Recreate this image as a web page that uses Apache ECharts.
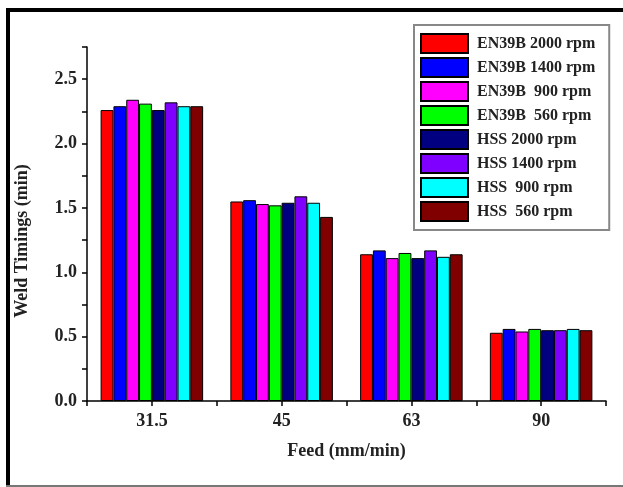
<!DOCTYPE html>
<html>
<head>
<meta charset="utf-8">
<script src="https://cdn.jsdelivr.net/npm/echarts@6/dist/echarts.min.js"></script>
<style>
html,body{margin:0;padding:0;background:#fff;}
#c{width:623px;height:487px;}
</style>
</head>
<body>
<div id="c"></div>
<script>
const categories = ['31.5', '45', '63', '90'];
const seriesNames = ['EN39B 2000 rpm', 'EN39B 1400 rpm', 'EN39B  900 rpm', 'EN39B  560 rpm',
                     'HSS 2000 rpm', 'HSS 1400 rpm', 'HSS  900 rpm', 'HSS  560 rpm'];
const en39b2000 = [2.26, 1.55, 1.14, 0.53];
const en39b1400 = [2.29, 1.56, 1.17, 0.56];
const en39b900  = [2.34, 1.53, 1.11, 0.54];
const en39b560  = [2.31, 1.52, 1.15, 0.56];
const hss2000   = [2.26, 1.54, 1.11, 0.55];
const hss1400   = [2.32, 1.59, 1.17, 0.55];
const hss900    = [2.29, 1.54, 1.12, 0.56];
const hss560    = [2.29, 1.43, 1.14, 0.55];
const seriesValues = [en39b2000, en39b1400, en39b900, en39b560, hss2000, hss1400, hss900, hss560];
const colors = ['#FF0000', '#0000FF', '#FF00FF', '#00FF00', '#000080', '#8000FF', '#00FFFF', '#800000'];
const yTicks = [0, 0.5, 1.0, 1.5, 2.0, 2.5];

const font = '"Liberation Serif", "DejaVu Serif", serif';
const chart = echarts.init(document.getElementById('c'));
chart.setOption({
  animation: false,
  backgroundColor: '#fff',
  graphic: [
    { type: 'rect', shape: { x: 6, y: 8, width: 617, height: 4 }, style: { fill: '#000' } },
    { type: 'rect', shape: { x: 6, y: 8, width: 4, height: 479 }, style: { fill: '#000' } },
    { type: 'rect', shape: { x: 6, y: 485, width: 617, height: 2 }, style: { fill: '#777' } }
  ],
  grid: { left: 87, top: 47, right: 17, bottom: 86, containLabel: false },
  legend: {
    orient: 'vertical',
    left: 414, top: 25,
    padding: [8, 14, 8, 6],
    itemWidth: 47, itemHeight: 19, itemGap: 3,
    borderColor: '#888', borderWidth: 2,
    backgroundColor: '#fff',
    icon: 'rect',
    textStyle: { fontFamily: font, fontWeight: 'bold', fontSize: 16, lineHeight: 19, color: '#222', padding: [0, 0, 0, 4] },
    data: seriesNames
  },
  xAxis: [{
    type: 'category',
    data: categories,
    name: 'Feed (mm/min)',
    nameLocation: 'middle',
    nameGap: 41,
    nameTextStyle: { fontFamily: font, fontWeight: 'bold', fontSize: 18, color: '#222' },
    axisLine: { lineStyle: { color: '#000', width: 1.5 } },
    axisTick: { show: false },
    axisLabel: { fontFamily: font, fontWeight: 'bold', fontSize: 18, color: '#222', margin: 11 },
    splitLine: { show: false }
  }, {
    type: 'value',
    min: 0, max: 4, interval: 0.5,
    position: 'bottom',
    axisLine: { show: false },
    axisTick: { show: true, inside: false, length: 5, lineStyle: { color: '#000', width: 1.5 } },
    axisLabel: { show: false },
    splitLine: { show: false }
  }],
  yAxis: {
    type: 'value',
    min: 0, max: 2.75, interval: 0.25,
    name: 'Weld Timings (min)',
    nameLocation: 'middle',
    nameGap: 56,
    nameTextStyle: { fontFamily: font, fontWeight: 'bold', fontSize: 18, color: '#222', padding: [0, 34, 0, 0] },
    axisLine: { show: true, lineStyle: { color: '#000', width: 1.5 } },
    axisTick: { show: true, length: 5, lineStyle: { color: '#000', width: 1.5 } },
    axisLabel: {
      fontFamily: font, fontWeight: 'bold', fontSize: 18, color: '#222', margin: 10,
      formatter: function (v) {
        for (const t of yTicks) { if (Math.abs(v - t) < 1e-6) return t.toFixed(1); }
        return '';
      }
    },
    splitLine: { show: false }
  },
  series: seriesNames.map((n, i) => ({
    name: n,
    type: 'bar',
    xAxisIndex: 0,
    data: seriesValues[i],
    barGap: '0%',
    barCategoryGap: '21%',
    itemStyle: { color: colors[i], borderColor: '#000', borderWidth: 1 }
  }))
});
</script>
</body>
</html>
